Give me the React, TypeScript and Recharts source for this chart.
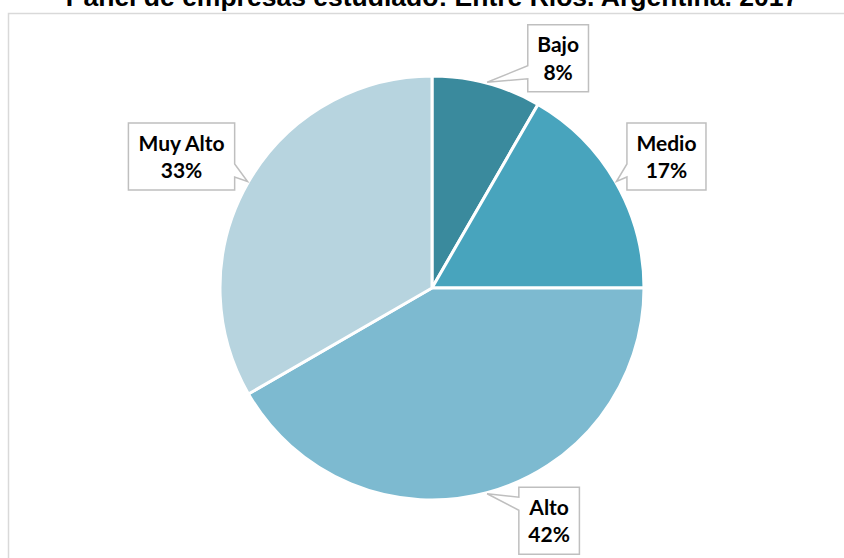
import * as React from 'react';
import { PieChart, Pie, Cell } from 'recharts';

// Nivel de las empresas del panel (cantidad de empresas)
const levels = ['Bajo', 'Medio', 'Alto', 'Muy Alto'];
const companies = [5, 10, 25, 20];
const sliceColors = ['#3A8A9D', '#48A4BD', '#7DBAD0', '#B7D4DF'];

const title = 'Panel de empresas estudiado: Entre Ríos. Argentina. 2017';

const W = 844;
const H = 558;
const RADIAN = Math.PI / 180;
const LABEL_SIZE = 21;
const LABEL_FONT = `bold ${LABEL_SIZE}px Lato`;

// where each callout box sits, relative to the tip of its pointer
const calloutShift: Record<string, { dx: number; dy: number }> = {
  Bajo: { dx: 71, dy: -24 },
  Medio: { dx: 50, dy: -25 },
  Alto: { dx: 62, dy: 27 },
  'Muy Alto': { dx: -66, dy: -25 },
};

let ctx: CanvasRenderingContext2D | null = null;
function textWidth(s: string) {
  if (!ctx) ctx = document.createElement('canvas').getContext('2d');
  if (!ctx) return s.length * 11;
  ctx.font = LABEL_FONT;
  return ctx.measureText(s).width;
}

function Callout(props: any) {
  const { cx, cy, midAngle, outerRadius, name, percent } = props;
  const pct = `${Math.round(percent * 100)}%`;
  const r = outerRadius + 1;
  const tx = cx + r * Math.cos(-midAngle * RADIAN);
  const ty = cy + r * Math.sin(-midAngle * RADIAN);
  const shift = calloutShift[name] || { dx: 0, dy: 0 };
  const bx = tx + shift.dx;
  const by = ty + shift.dy;
  const w = Math.max(textWidth(name), textWidth(pct)) + 19;
  const h = 67;
  const left = bx - w / 2;
  const right = bx + w / 2;
  const top = by - h / 2;
  const bottom = by + h / 2;
  const y0 = Math.min(Math.max(ty - 13, top + 10), bottom - 26);
  const y1 = y0 + 13;
  let d: string;
  if (tx < left) {
    d = `M${left},${top}H${right}V${bottom}H${left}V${y1}L${tx},${ty}L${left},${y0}Z`;
  } else {
    d = `M${left},${top}H${right}V${y0}L${tx},${ty}L${right},${y1}V${bottom}H${left}Z`;
  }
  return (
    <g>
      <path d={d} fill="#FFFFFF" stroke="#BFBFBF" strokeWidth={1.5} />
      <text
        x={bx}
        textAnchor="middle"
        fontFamily="Lato"
        fontWeight="bold"
        fontSize={LABEL_SIZE}
        fill="#000000"
      >
        <tspan x={bx} y={by - 6}>{name}</tspan>
        <tspan x={bx} y={by + 21.5}>{pct}</tspan>
      </text>
    </g>
  );
}

export default function App() {
  const data = levels.map((name, i) => ({ name, value: companies[i] }));
  return (
    <div style={{ position: 'absolute', left: 0, top: 0, width: W, height: H, overflow: 'hidden', background: '#FFFFFF' }}>
      <svg width={W} height={H} style={{ position: 'absolute', left: 0, top: 0 }}>
        <rect x={8.5} y={13.5} width={850} height={570} fill="#FFFFFF" stroke="#D9D9D9" strokeWidth={1.5} />
        <text
          x={432}
          y={6}
          textAnchor="middle"
          fontFamily="Liberation Sans, Arial"
          fontWeight="bold"
          fontSize={26.5}
          fill="#000000"
        >
          {title}
        </text>
      </svg>
      <div style={{ position: 'absolute', left: 0, top: 0 }}>
        <PieChart width={W} height={H} margin={{ top: 0, right: 0, bottom: 0, left: 0 }}>
          <Pie
            data={data}
            dataKey="value"
            nameKey="name"
            cx={432}
            cy={288}
            outerRadius={212}
            startAngle={90}
            endAngle={-270}
            stroke="#FFFFFF"
            strokeWidth={3}
            label={Callout}
            labelLine={false}
            isAnimationActive={false}
          >
            {data.map((d, i) => (
              <Cell key={d.name} fill={sliceColors[i]} />
            ))}
          </Pie>
        </PieChart>
      </div>
    </div>
  );
}
